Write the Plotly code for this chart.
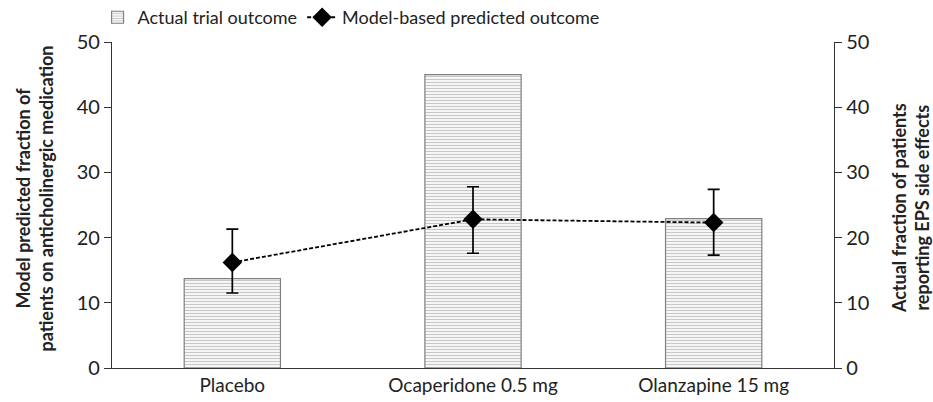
import plotly.graph_objects as go

# Data
categories = ["Placebo", "Ocaperidone 0.5 mg", "Olanzapine 15 mg"]
actual_outcome = [13.7, 45.0, 22.9]
predicted_outcome = [16.2, 22.8, 22.3]
predicted_upper = [21.3, 27.8, 27.4]
predicted_lower = [11.5, 17.6, 17.3]

err_plus = [u - p for u, p in zip(predicted_upper, predicted_outcome)]
err_minus = [p - l for p, l in zip(predicted_outcome, predicted_lower)]

font_family = "Lato, Open Sans, sans-serif"
ink = "#222222"

fig = go.Figure()

# bars (actual outcome) drawn first so the predicted markers sit on top
fig.add_trace(go.Bar(
    x=categories, y=actual_outcome, name="Actual trial outcome",
    yaxis="y", width=0.4,
    marker=dict(color="white",
                line=dict(color="#808080", width=1.2),
                pattern=dict(shape="-", fgcolor="#8f8f8f", bgcolor="white",
                             size=3, solidity=0.45)),
))

fig.add_trace(go.Scatter(
    x=categories, y=predicted_outcome, name="Model-based predicted outcome",
    yaxis="y2", mode="lines+markers",
    line=dict(color="black", width=1.8, dash="4px,2px"),
    marker=dict(symbol="diamond", size=15, color="black"),
    error_y=dict(type="data", array=err_plus, arrayminus=err_minus,
                 color="black", thickness=1.7, width=6),
))

axis_common = dict(range=[0, 50], tickvals=[0, 10, 20, 30, 40, 50],
                   ticks="outside", ticklen=7, tickwidth=1.3, tickcolor="#333",
                   showline=True, linecolor="#333", linewidth=1.3,
                   showgrid=False, zeroline=False,
                   tickfont=dict(size=20, color=ink, family=font_family))

fig.update_layout(
    width=933, height=402,
    margin=dict(l=112, r=99, t=42, b=34, autoexpand=False),
    plot_bgcolor="white", paper_bgcolor="white",
    font=dict(family=font_family, color=ink),
    xaxis=dict(range=[-0.5, 2.5], showline=True, linecolor="#333", linewidth=1.3,
               ticks="", showgrid=False,
               tickfont=dict(size=19, color=ink, family=font_family)),
    yaxis=dict(**axis_common, side="left"),
    yaxis2=dict(**axis_common, side="right", overlaying="y"),
    legend=dict(orientation="h", x=-0.02, y=1.075, xanchor="left", yanchor="middle",
                font=dict(size=18, color=ink, family=font_family),
                bgcolor="rgba(0,0,0,0)", itemwidth=30, traceorder="normal"),
    showlegend=True,
)

# axis titles
fig.add_annotation(
    xref="paper", yref="paper", x=-0.108, y=0.52, xanchor="center", yanchor="middle",
    text="<b>Model predicted fraction of<br>patients on anticholinergic medication</b>",
    textangle=-90, showarrow=False, font=dict(size=18, color=ink, family=font_family),
)
fig.add_annotation(
    xref="paper", yref="paper", x=1.105, y=0.49, xanchor="center", yanchor="middle",
    text="<b>Actual fraction of patients<br>reporting EPS side effects</b>",
    textangle=-90, showarrow=False, font=dict(size=18, color=ink, family=font_family),
)

# page body has a default 8px margin; drop it so the figure fills the window
fig.write_html("out.html", config={"displayModeBar": False},
               post_script="document.body.style.margin='0';")
